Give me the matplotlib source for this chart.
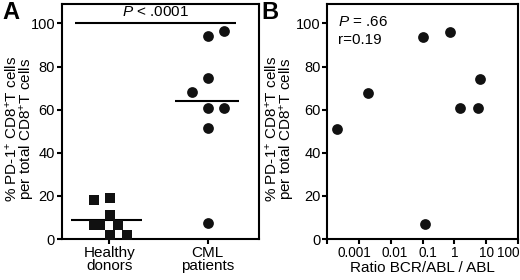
import numpy as np
import matplotlib
matplotlib.use('Agg')
import matplotlib.pyplot as plt
import matplotlib.transforms as mtransforms

plt.rcParams['font.family'] = ['Liberation Sans', 'DejaVu Sans']
plt.rcParams['mathtext.fontset'] = 'custom'
plt.rcParams['mathtext.rm'] = 'Liberation Sans'
plt.rcParams['mathtext.it'] = 'Liberation Sans:italic'

# 数据
groups = ['Healthy\ndonors', 'CML\npatients']
healthy_vals = [18.1, 19.1, 11.1, 6.5, 6.5, 6.5, 1.9, 1.9]
healthy_jitter = [-0.16, 0.01, 0.01, -0.16, -0.09, 0.09, 0.01, 0.18]
cml_vals = [94.1, 96.6, 74.5, 68.3, 60.6, 60.6, 51.3, 7.3]
cml_jitter = [0.0, 0.17, 0.0, -0.16, 0.0, 0.17, 0.0, 0.0]

ratio_bcr_abl = [0.0002, 0.0019, 0.10, 0.7, 0.12, 1.55, 5.7, 6.3]
pd1_cml = [50.9, 67.8, 93.8, 96.1, 7.0, 60.6, 60.6, 74.2]
ratio_ticks = [1e-4, 1e-3, 1e-2, 1e-1, 1, 10, 100]
ratio_labels = ['', '0.001', '0.01', '0.1', '1', '10', '100']

ylabel = '% PD-1$^{+}$ CD8$^{+}$T cells\nper total CD8$^{+}$T cells'
fs = 11

fig = plt.figure(figsize=(5.2, 2.8), dpi=100)
axA = fig.add_axes([0.1192, 0.1464, 0.3788, 0.8393])
axB = fig.add_axes([0.6298, 0.1464, 0.3662, 0.8393])

for ax in (axA, axB):
    for sp in ax.spines.values():
        sp.set_linewidth(1.5)
    ax.tick_params(direction='out', length=3.5, width=1.5, labelsize=10.5, pad=1.5)
    ax.set_ylim(0, 109)
    ax.set_yticks([0, 20, 40, 60, 80, 100])
    ax.set_ylabel(ylabel, fontsize=11, linespacing=0.85)

axA.yaxis.set_label_coords(-0.127, 0.47)
axB.yaxis.set_label_coords(-0.16, 0.47)

# 图A：散点 + 均值线
axA.scatter(np.array(healthy_jitter), healthy_vals, marker='s', s=50, color='#111111',
            linewidths=0, clip_on=False, zorder=3)
axA.scatter(1 + np.array(cml_jitter), cml_vals, marker='o', s=60, color='#111111',
            linewidths=0, clip_on=False, zorder=3)
axA.hlines(np.mean(healthy_vals), -0.39, 0.33, color='black', linewidth=1.5)
axA.hlines(np.mean(cml_vals), 0.67, 1.32, color='black', linewidth=1.5)
axA.hlines(100, -0.35, 1.29, color='black', linewidth=1.5)
axA.text(0.47, 102, '$P$ < .0001', ha='center', va='bottom', fontsize=fs)
axA.set_xlim(-0.48, 1.52)
axA.set_xticks([0, 1])
axA.set_xticklabels(groups, linespacing=0.95, fontsize=fs)

# 图B：相关性散点
axB.scatter(ratio_bcr_abl, pd1_cml, marker='o', s=60, color='#111111',
            linewidths=0, clip_on=False, zorder=3)
axB.set_xscale('log')
axB.set_xlim(1e-4, 100)
axB.set_xticks(ratio_ticks)
axB.set_xticklabels(ratio_labels, fontsize=9.8)
axB.minorticks_off()
# 标签略微错开，避免重叠（同原图）
shifts = [0, -5, 4, 5, 0, 0, 0]
for lab, dx in zip(axB.get_xticklabels(), shifts):
    lab.set_transform(lab.get_transform() +
                      mtransforms.ScaledTranslation(dx / 100, 0, fig.dpi_scale_trans))
axB.get_xticklabels()[-1].set_horizontalalignment('right')
axB.get_xticklabels()[-1].set_transform(axB.get_xticklabels()[-1].get_transform() +
                                        mtransforms.ScaledTranslation(0.02, 0, fig.dpi_scale_trans))
axB.set_xlabel('Ratio BCR/ABL / ABL', fontsize=fs, labelpad=1)
axB.text(0.055, 0.955, '$P$ = .66', transform=axB.transAxes, ha='left', va='top', fontsize=fs)
axB.text(0.055, 0.875, 'r=0.19', transform=axB.transAxes, ha='left', va='top', fontsize=fs)

fig.text(0.005, 0.995, 'A', fontsize=17, fontweight='bold', ha='left', va='top')
fig.text(0.503, 0.995, 'B', fontsize=17, fontweight='bold', ha='left', va='top')

fig.savefig('out.png', dpi=100)
